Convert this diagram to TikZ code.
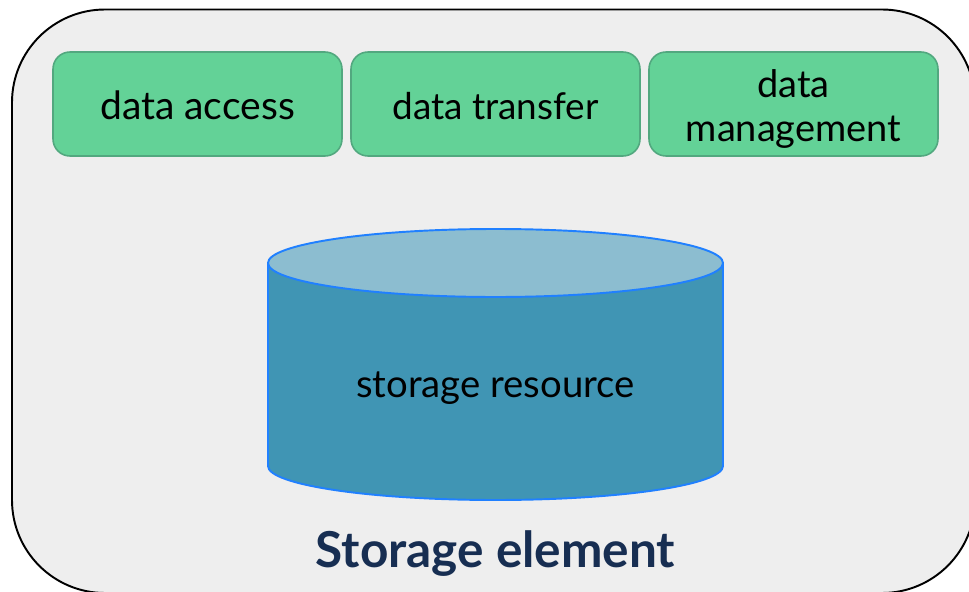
\documentclass[tikz,border=0pt]{standalone}
\usepackage{fontspec}
\setmainfont{Lato}
\usepackage{tikz}
\definecolor{panelgray}{HTML}{EEEEEE}
\definecolor{servicegreen}{HTML}{63D297}
\definecolor{serviceedge}{HTML}{52A87F}
\definecolor{drumblue}{HTML}{4095B4}
\definecolor{drumtop}{HTML}{8CBDD0}
\definecolor{drumedge}{HTML}{2080FF}
\definecolor{titlenavy}{HTML}{172E52}

\begin{document}
\begin{tikzpicture}
    \tikzstyle{panel}=[draw=black,line width=0.55pt,fill=panelgray,rounded corners=0.93cm]
    \tikzstyle{service}=[draw=serviceedge,line width=0.45pt,fill=servicegreen,rounded corners=0.17cm,
                         minimum width=2.89cm,minimum height=1.04cm,inner sep=0pt,align=center,
                         font=\fontsize{11.1}{12.5}\selectfont]
    \tikzstyle{drum}=[draw=drumedge,line width=0.55pt,line join=round]
    \useasboundingbox (0,0) rectangle (9.69,5.91);
    \clip (0,0) rectangle (9.69,5.91);

    \draw [panel] (0.12,-0.02) rectangle (9.75,5.815);

    \node (access) at (1.975,4.87) [service] {\rule{0pt}{9pt}data access};
    \node (transfer) at (4.955,4.87) [service,font=\fontsize{10.5}{12.5}\selectfont] {\rule{0pt}{9pt}data transfer};
    \node (management) at (7.935,4.87) [service,font=\fontsize{10.8}{12.5}\selectfont] {\rule{0pt}{10.6pt}data\\management};

    \draw [drum,fill=drumblue] (2.68,3.28) -- (2.68,1.25) arc [start angle=180,end angle=360,x radius=2.275,y radius=0.34] -- (7.23,3.28) -- cycle;
    \draw [drum,fill=drumtop] (4.955,3.28) ellipse [x radius=2.275,y radius=0.34];

    \node (resource) at (4.955,2.03) [inner sep=0pt,font=\fontsize{10.9}{12.5}\selectfont] {storage resource};
    \node (title) at (4.955,0.37) [inner sep=0pt,text=titlenavy,font=\fontsize{14.1}{16}\selectfont\bfseries] {Storage element};
\end{tikzpicture}
\end{document}
